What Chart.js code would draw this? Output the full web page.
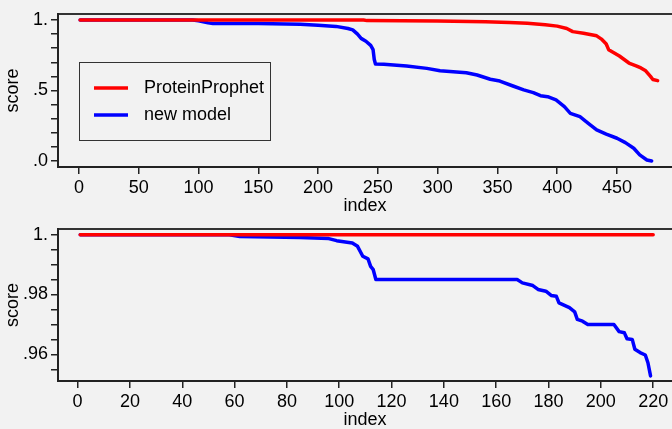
<!DOCTYPE html>
<html>
<head>
<meta charset="utf-8">
<script src="https://cdn.jsdelivr.net/npm/chart.js@4.4.0/dist/chart.umd.min.js"></script>
<style>
  body { margin: 0; background: #f2f2f2; }
  canvas { display: block; }
</style>
</head>
<body>
<canvas id="topChart" width="672" height="215"></canvas>
<canvas id="bottomChart" width="672" height="214"></canvas>
<script>
const seriesNames = ['ProteinProphet', 'new model'];

// top panel: all proteins
const topProphetIndex = [1, 238, 241, 300, 340, 360, 375, 390, 400, 408, 413, 422, 433, 437, 441, 443, 447, 452, 460, 466, 470, 474, 478, 480, 484];
const topProphetScore = [1, 1, .996, .993, .988, .983, .977, .967, .957, .94, .918, .906, .888, .865, .83, .79, .77, .745, .695, .675, .66, .64, .6, .578, .57];
const topModelIndex = [1, 95, 100, 108, 112, 150, 185, 200, 215, 225, 229, 233, 236, 240, 244, 246, 247, 248, 255, 274, 291, 302, 324, 333, 344, 352, 363, 372, 380, 386, 392, 399, 406, 411, 419, 426, 433, 441, 450, 457, 464, 469, 475, 479];
const topModelScore = [1, 1, .995, .98, .976, .975, .97, .963, .955, .94, .93, .9, .87, .85, .82, .79, .72, .688, .686, .674, .657, .64, .626, .61, .58, .567, .532, .504, .485, .463, .456, .433, .385, .338, .314, .267, .22, .19, .161, .13, .09, .043, .007, 0];
const topXTicks = [0, 50, 100, 150, 200, 250, 300, 350, 400, 450];
const topYTicks = [0, .5, 1];
const topYLabels = ['.0', '.5', '1.'];

// bottom panel: zoom on the top scores
const bottomProphetIndex = [1, 220];
const bottomProphetScore = [1, 1];
const bottomModelIndex = [1, 58, 62, 85, 96, 99, 105, 107, 109, 111, 112, 113, 114, 168, 170, 174, 176, 179, 181, 183, 184, 188, 190, 191, 193, 195, 205, 207, 209, 210, 212, 213, 215, 217, 218, 219];
const bottomModelScore = [1, 1, .9994, .9991, .9987, .998, .9972, .9961, .9928, .9919, .9894, .9883, .985, .985, .9839, .983, .9817, .9811, .9797, .9794, .9772, .9756, .9742, .9717, .9711, .97, .97, .9676, .9672, .9652, .965, .9617, .9606, .9598, .9572, .9528];
const bottomXTicks = [0, 20, 40, 60, 80, 100, 120, 140, 160, 180, 200, 220];
const bottomYTicks = [.96, .98, 1];
const bottomYLabels = ['.96', '.98', '1.'];

const font = { family: 'Liberation Sans, Arial, sans-serif', size: 18 };
const titleFont = { family: 'Liberation Sans, Arial, sans-serif', size: 18, lineHeight: 1 };
const ink = '#000';

const boxLegend = {
  id: 'boxLegend',
  afterDatasetsDraw(chart, args, opts) {
    if (!opts.show) return;
    const { ctx, chartArea } = chart;
    const left = chartArea.left + opts.x;
    const top = chartArea.top + opts.y;
    ctx.save();
    ctx.strokeStyle = '#333';
    ctx.lineWidth = 1;
    ctx.strokeRect(Math.round(left) + 0.5, Math.round(top) + 0.5, opts.width, opts.height);
    ctx.font = font.size + 'px ' + font.family;
    ctx.textBaseline = 'middle';
    ctx.fillStyle = ink;
    chart.data.datasets.forEach((ds, i) => {
      const y = top + 26 + i * 27;
      ctx.strokeStyle = ds.borderColor;
      ctx.lineWidth = 3.5;
      ctx.beginPath();
      ctx.moveTo(left + 15, y);
      ctx.lineTo(left + 49, y);
      ctx.stroke();
      ctx.fillText(ds.label, left + 65, y);
    });
    ctx.restore();
  }
};

function minorTicks(lo, hi, step) {
  const out = [];
  for (let v = lo; v <= hi + step / 2; v += step) out.push(Math.round(v * 1e6) / 1e6);
  return out;
}

function buildChart(id, cfg) {
  const toPoints = (xs, ys) => xs.map((x, i) => ({ x: x, y: ys[i] }));
  return new Chart(document.getElementById(id), {
    type: 'line',
    data: {
      datasets: [
        { label: seriesNames[0], data: toPoints(cfg.redX, cfg.redY), borderColor: '#ff0000' },
        { label: seriesNames[1], data: toPoints(cfg.blueX, cfg.blueY), borderColor: '#0000ff' }
      ]
    },
    options: {
      responsive: false,
      animation: false,
      layout: { padding: 0 },
      elements: {
        point: { radius: 0 },
        line: { borderWidth: 3.5, tension: 0, borderJoinStyle: 'round', borderCapStyle: 'round' }
      },
      plugins: {
        legend: { display: false },
        tooltip: { enabled: false },
        boxLegend: cfg.legend
      },
      scales: {
        x: {
          type: 'linear',
          position: 'bottom',
          min: cfg.xMin,
          max: cfg.xMax,
          afterBuildTicks: s => { s.ticks = cfg.xTicks.map(v => ({ value: v })); },
          afterFit: s => { s.height = 48; },
          ticks: { color: ink, font: font, padding: 3, maxRotation: 0, autoSkip: false, callback: v => String(v) },
          grid: { drawOnChartArea: false, drawTicks: true, tickLength: 7, color: '#222', lineWidth: 1.5 },
          border: { color: '#222', width: 2 },
          title: { display: true, text: 'index', color: ink, font: titleFont, padding: { top: 0, bottom: 0 } }
        },
        x2: {
          type: 'linear',
          position: 'top',
          min: cfg.xMin,
          max: cfg.xMax,
          afterFit: s => { s.height = 14; },
          ticks: { display: false },
          grid: { display: false, drawTicks: false },
          border: { color: '#333', width: 2 }
        },
        y: {
          type: 'linear',
          min: cfg.yMin,
          max: cfg.yMax,
          afterBuildTicks: s => { s.ticks = minorTicks(cfg.yTicks[0] - cfg.yLow, cfg.yTicks[cfg.yTicks.length - 1], cfg.yStep).map(v => ({ value: v })); },
          afterFit: s => { s.width = 58; },
          ticks: {
            color: ink, font: font, padding: 3, autoSkip: false,
            callback: v => {
              const k = cfg.yTicks.findIndex(t => Math.abs(t - v) < 1e-7);
              return k < 0 ? '' : cfg.yLabels[k];
            }
          },
          grid: { drawOnChartArea: false, drawTicks: true, tickLength: 7, color: '#222', lineWidth: 1.5 },
          border: { color: '#222', width: 2 },
          title: { display: true, text: 'score', color: ink, font: titleFont, padding: { top: 4, bottom: 0 } }
        }
      }
    },
    plugins: [boxLegend]
  });
}

buildChart('topChart', {
  redX: topProphetIndex, redY: topProphetScore,
  blueX: topModelIndex, blueY: topModelScore,
  xMin: -17.5, xMax: 496, xTicks: topXTicks,
  yMin: -0.043, yMax: 1.043, yTicks: topYTicks, yLabels: topYLabels, yStep: 0.1, yLow: 0,
  legend: { show: true, x: 21, y: 48, width: 191, height: 78 }
});

buildChart('bottomChart', {
  redX: bottomProphetIndex, redY: bottomProphetScore,
  blueX: bottomModelIndex, blueY: bottomModelScore,
  xMin: -7.5, xMax: 227.2, xTicks: bottomXTicks,
  yMin: 0.9511, yMax: 1.0019, yTicks: bottomYTicks, yLabels: bottomYLabels, yStep: 0.005, yLow: 0.005,
  legend: { show: false }
});
</script>
</body>
</html>
